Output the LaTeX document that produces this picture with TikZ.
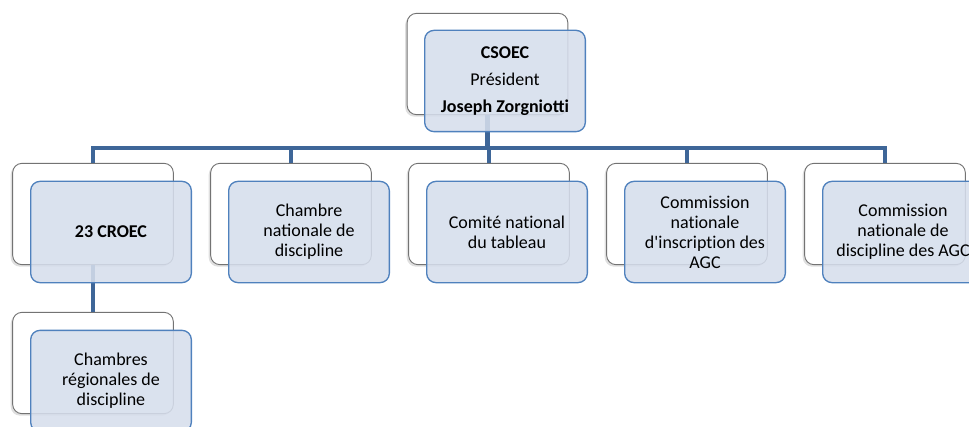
\documentclass[tikz,border=0pt]{standalone}
\usepackage{fontspec}
\setmainfont{Carlito}
\usetikzlibrary{shadows}

\definecolor{boxfill}{RGB}{214,222,236}
\definecolor{boxline}{RGB}{79,129,189}
\definecolor{busline}{RGB}{62,102,152}

\begin{document}
\begin{tikzpicture}[
    x=0.75pt, y=-0.75pt,
    back/.style={rectangle, rounded corners=7pt, draw=black!55, fill=white, line width=0.7pt,
        minimum width=120.5pt, minimum height=76pt,
        drop shadow={shadow xshift=-1.5pt, shadow yshift=-1.5pt, opacity=0.25}},
    front/.style={rectangle, rounded corners=7pt, draw=boxline, fill=boxfill, fill opacity=0.88,
        text opacity=1, line width=1pt, minimum width=120.5pt, minimum height=76pt,
        align=flush center, text width=118pt, inner sep=0pt, font=\fontsize{13.5pt}{15pt}\selectfont},
    bus/.style={draw=busline, line width=3.5pt}
]
\useasboundingbox (0,0) rectangle (969,427);

% Back boxes
\node[back] (csoecB) at (487.5,64) {};
\node[back] (croecB) at (93,214) {};
\node[back] (chambreB) at (291,214) {};
\node[back] (comiteB) at (489,214) {};
\node[back] (inscrB) at (687,214) {};
\node[back] (agcB) at (885,214) {};
\node[back] (regB) at (93,363) {};

% Connectors
\coordinate (bus) at (487.5,148);
\foreach \c in {croecB, chambreB, comiteB, inscrB, agcB}
    \draw[bus] (csoecB.south) -- (csoecB.south |- bus) -| (\c.north);
\draw[bus] (croecB.south) -- (regB.north);

% Front boxes
\node[front] (csoec) at (505,81) {\textbf{CSOEC}\\[5.5pt]Président\\[5.5pt]\textbf{Joseph Zorgniott\kern0pt i}};
\node[front] (croec) at (111,232) {\textbf{23 CROEC}};
\node[front] (chambre) at (309,232) {Chambre\\nationale de\\discipline};
\node[front] (comite) at (507,232) {Comité nat\kern0pt ional\\du tableau};
\node[front] (inscr) at (705,232) {Commission\\nat\kern0pt ionale\\d\textquotesingle inscript\kern0pt ion des\\AGC};
\node[front] (agc) at (903,232) {Commission\\nat\kern0pt ionale de\\discipline des AGC};
\node[front] (reg) at (111,381) {Chambres\\régionales de\\discipline};
\end{tikzpicture}
\end{document}
